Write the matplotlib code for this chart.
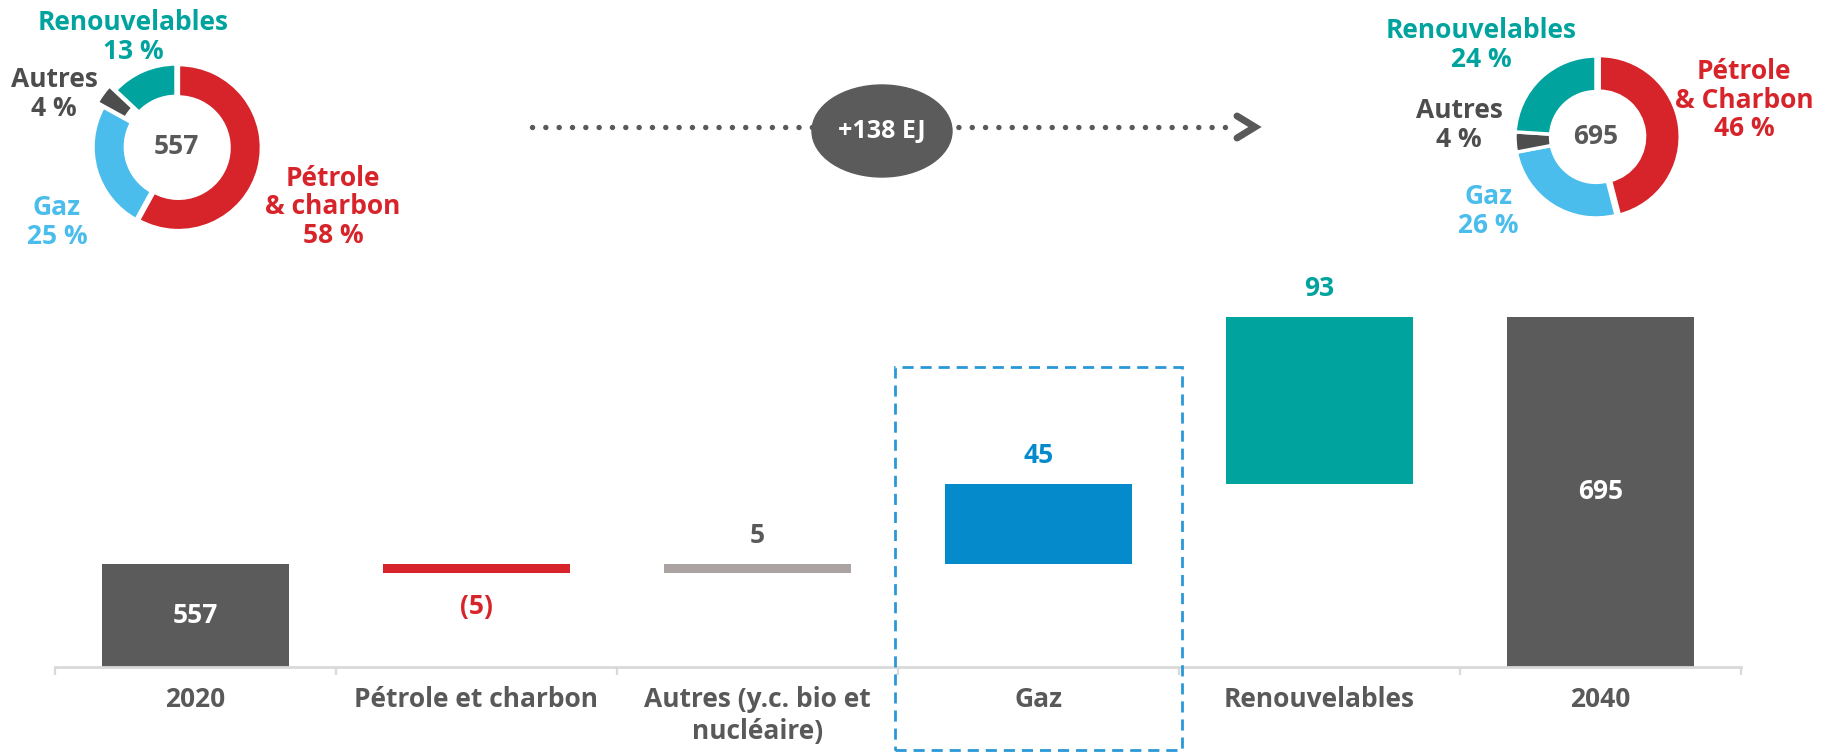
import matplotlib
matplotlib.use("Agg")
import matplotlib.pyplot as plt
from matplotlib.patches import Ellipse, Rectangle

plt.rcParams['font.family'] = ['Open Sans', 'DejaVu Sans']
plt.rcParams['font.weight'] = 'bold'

# ---------------- data ----------------
categories = ["2020", "Pétrole et charbon", "Autres (y.c. bio et\nnucléaire)",
              "Gaz", "Renouvelables", "2040"]
total_2020 = 557
deltas = [-5, 5, 45, 93]
total_2040 = 695
change_label = "+138 EJ"

mix_names_2020 = ["Pétrole\n& charbon", "Gaz", "Autres", "Renouvelables"]
mix_2020 = [58, 25, 4, 13]
mix_names_2040 = ["Pétrole\n& Charbon", "Gaz", "Autres", "Renouvelables"]
mix_2040 = [46, 26, 4, 24]

# ---------------- style ----------------
DARK = "#5B5B5B"
RED = "#D7242B"
GREYBAR = "#ABA3A1"
BLUE = "#058BCB"
TEAL = "#00A39D"
LIGHTBLUE = "#4BBDEC"
AUTRES = "#4D4D4D"
TEXT = "#595959"
AXIS = "#D9D9D9"

W, H = 1821, 753
fig = plt.figure(figsize=(W / 100, H / 100), dpi=100)

# ---------------- waterfall ----------------
ax = fig.add_axes([54.6 / W, (H - 666.5) / H, (1741 - 54.6) / W, 394.4 / H])
ax.set_xlim(-0.5, 5.5)
ax.set_ylim(500, 720)
ymin = ax.get_ylim()[0]
bw = 0.665
FS = 19

delta_colors = [RED, GREYBAR, BLUE, TEAL]
label_colors = [RED, TEXT, BLUE, TEAL]

# totals
for xi, val in [(0, total_2020), (5, total_2040)]:
    ax.bar(xi, val, width=bw, color=DARK, zorder=2)
    ax.text(xi, (ymin + val) / 2, f"{val}", ha="center", va="center",
            color="white", fontsize=FS, fontweight="bold", zorder=3)

level = total_2020
for i, d in enumerate(deltas):
    xi = i + 1
    if d < 0:
        bottom = level + d
    else:
        bottom = level
    level += d
    ax.bar(xi, abs(d), bottom=bottom, width=bw, color=delta_colors[i], zorder=2)
    if d < 0:
        ax.annotate(f"({abs(d)})", xy=(xi, bottom), xytext=(0, -24),
                    textcoords="offset points", ha="center", va="center",
                    color=label_colors[i], fontsize=FS, fontweight="bold")
    else:
        ax.annotate(f"{d}", xy=(xi, bottom + d), xytext=(0, 20.5),
                    textcoords="offset points", ha="center", va="center",
                    color=label_colors[i], fontsize=FS, fontweight="bold")

# highlight box around Gaz
gaz_idx = categories.index("Gaz")
ax.add_patch(Rectangle((gaz_idx - 0.51, 453.5), 1.02, 666.8 - 453.5, fill=False,
                       edgecolor="#2A98D8", linewidth=2, linestyle=(0, (4, 2.5)),
                       clip_on=False, zorder=4))

for s in ["top", "right", "left"]:
    ax.spines[s].set_visible(False)
ax.spines["bottom"].set_color(AXIS)
ax.spines["bottom"].set_linewidth(2)
ax.spines["bottom"].set_zorder(3)
ax.set_yticks([])
ax.set_xticks(range(len(categories)))
ax.set_xticklabels(categories, fontsize=19, fontweight="bold", color=TEXT,
                   linespacing=1.25)
ax.set_xticks([i - 0.5 for i in range(len(categories) + 1)], minor=True)
ax.tick_params(axis="x", which="major", length=0, pad=14)
ax.tick_params(axis="x", which="minor", length=6, width=1.6, color=AXIS,
               direction="out")
ax.patch.set_alpha(0)

# ---------------- donuts ----------------
mix_colors = [RED, LIGHTBLUE, AUTRES, TEAL]


def donut(cx, cy, R, values, total, explode, ring):
    a = fig.add_axes([(cx - 1.25 * R) / W, (H - cy - 1.25 * R) / H,
                      2.5 * R / W, 2.5 * R / H])
    a.pie(values, colors=mix_colors, startangle=90, counterclock=False,
          radius=1, explode=explode,
          wedgeprops=dict(width=ring, edgecolor="white", linewidth=2.5))
    a.set_xlim(-1.25, 1.25)
    a.set_ylim(-1.25, 1.25)
    a.set_aspect("equal")
    a.axis("off")
    a.text(0, 0, f"{total}", ha="center", va="center", color=TEXT,
           fontsize=19, fontweight="bold")
    return a


donut(176, 147, 83, mix_2020, total_2020, [0.03, 0.0, 0.09, 0.0], 0.39)
donut(1596, 137, 81, mix_2040, total_2040, [0.04, 0.0, 0.0, 0.0], 0.44)


def ftext(x, y, s, color, **kw):
    fig.text(x / W, 1 - y / H, s, ha="center", va="center", color=color,
             fontsize=19, fontweight="bold", linespacing=1.08, **kw)


# 2020 labels
pos_2020 = [(333, 207), (57, 222), (54, 94), (133, 37)]
for (x, y), name, v, c in zip(pos_2020, mix_names_2020, mix_2020,
                              [RED, LIGHTBLUE, AUTRES, TEAL]):
    ftext(x, y, f"{name}\n{v} %", c)

# 2040 labels
pos_2040 = [(1744, 100), (1488, 211), (1459, 125), (1481, 45)]
for (x, y), name, v, c in zip(pos_2040, mix_names_2040, mix_2040,
                              [RED, LIGHTBLUE, AUTRES, TEAL]):
    ftext(x, y, f"{name}\n{v} %", c)

# ---------------- arrow with oval ----------------
ov = fig.add_axes([0, 0, 1, 1], zorder=-1)
ov.set_xlim(0, W)
ov.set_ylim(H, 0)
ov.axis("off")
ov.plot([532, 1232], [127, 127], color=TEXT, lw=3.9,
        linestyle=(0, (0.01, 2.45)), dash_capstyle="round")
ov.plot([1237, 1255, 1237], [116, 127, 138], color=TEXT, lw=5,
        solid_capstyle="round", solid_joinstyle="miter")
ov.add_patch(Ellipse((882, 131), 140, 92, color=DARK, zorder=3))
ov.text(882, 131, change_label, ha="center", va="center", color="white",
        fontsize=18, fontweight="bold", zorder=4)

fig.savefig("out.png", dpi=100)
